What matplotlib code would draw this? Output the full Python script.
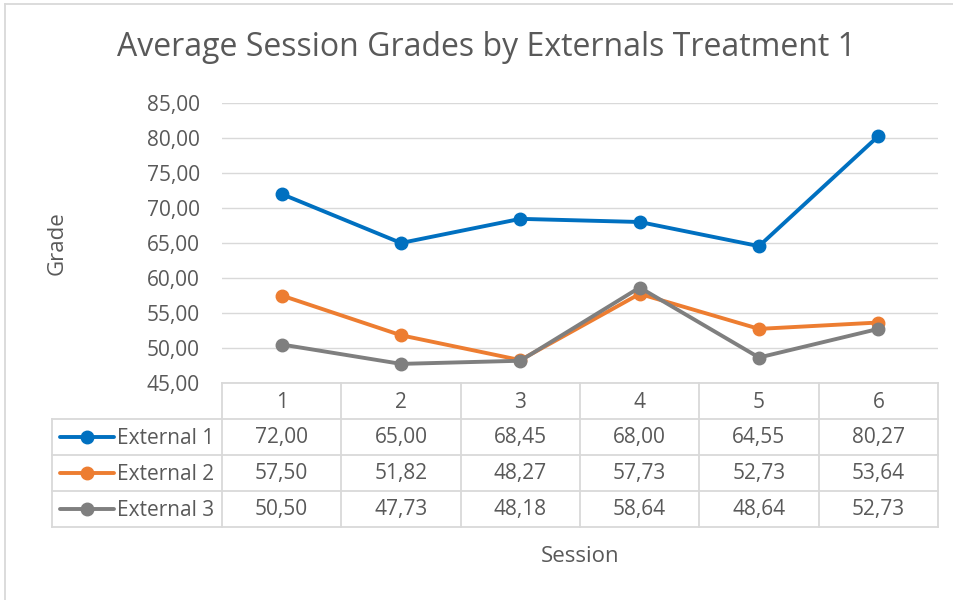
import matplotlib
matplotlib.use("Agg")
import matplotlib.pyplot as plt
from matplotlib.lines import Line2D

plt.rcParams['font.family'] = ['Open Sans', 'DejaVu Sans']

sessions = [1, 2, 3, 4, 5, 6]
series_names = ["External 1", "External 2", "External 3"]
external1 = [72.00, 65.00, 68.45, 68.00, 64.55, 80.27]
external2 = [57.50, 51.82, 48.27, 57.73, 52.73, 53.64]
external3 = [50.50, 47.73, 48.18, 58.64, 48.64, 52.73]
yticks = [45, 50, 55, 60, 65, 70, 75, 80, 85]
colors = ["#0070C0", "#ED7D31", "#7F7F7F"]

W, H = 954, 600
fig = plt.figure(figsize=(W / 100, H / 100), dpi=100)
TXT = "#595959"
GRID = "#D9D9D9"
FS = 15

def fx(px):
    return px / W

def fy(py):
    return 1 - py / H

L, R, T, B = 222, 938, 103, 383
ax = fig.add_axes([fx(L), fy(B), fx(R) - fx(L), fy(T) - fy(B)])
ax.set_xlim(0.5, 6.5)
ax.set_ylim(45, 85)
ax.set_yticks(yticks)
ax.set_yticklabels([f"{v:.2f}".replace(".", ",") for v in yticks], fontsize=FS, color=TXT)
ax.set_xticks([])
ax.tick_params(axis='y', length=0, pad=16)
for s in ax.spines.values():
    s.set_visible(False)
ax.grid(axis='y', color=GRID, linewidth=1)
ax.set_axisbelow(True)
ax.patch.set_alpha(0)

data = [external1, external2, external3]
for vals, c in zip(data, colors):
    ax.plot(sessions, vals, color=c, linewidth=2.8, marker='o', markersize=9,
            solid_capstyle='round', clip_on=False, zorder=3)

# overlay for table in pixel coordinates
ov = fig.add_axes([0, 0, 1, 1])
ov.set_xlim(0, W)
ov.set_ylim(H, 0)
ov.axis('off')
ov.patch.set_alpha(0)

col_edges = [L + (R - L) * i / 6 for i in range(7)]
row_edges = [383, 419, 455, 491, 527]
TL = 52
lw = 1.3
for x in col_edges:
    ov.plot([x, x], [row_edges[0], row_edges[-1]], color=GRID, lw=lw)
ov.plot([TL, TL], [row_edges[1], row_edges[-1]], color=GRID, lw=lw)
for y in row_edges[1:]:
    ov.plot([TL, R], [y, y], color=GRID, lw=lw)
ov.plot([L, R], [row_edges[0], row_edges[0]], color=GRID, lw=lw)

for i, s in enumerate(sessions):
    cx = (col_edges[i] + col_edges[i + 1]) / 2
    ov.text(cx, (row_edges[0] + row_edges[1]) / 2 + 1, str(s), ha='center', va='center',
            fontsize=FS, color=TXT)

for r, (name, vals, c) in enumerate(zip(series_names, data, colors)):
    cy = (row_edges[r + 1] + row_edges[r + 2]) / 2
    ov.add_line(Line2D([60, 114], [cy, cy], color=c, lw=2.8, solid_capstyle='round'))
    ov.plot([87], [cy], marker='o', markersize=9, color=c)
    ov.text(117, cy + 1, name, ha='left', va='center', fontsize=FS, color=TXT)
    for i, v in enumerate(vals):
        cx = (col_edges[i] + col_edges[i + 1]) / 2
        ov.text(cx, cy + 1, f"{v:.2f}".replace(".", ","), ha='center', va='center',
                fontsize=FS, color=TXT)

ov.plot([5, 5], [4, H], color=GRID, lw=1.3)
ov.plot([5, W], [4, 4], color=GRID, lw=1.3)

fig.text(fx(487), fy(48), "Average Session Grades by Externals Treatment 1", ha='center',
         va='center', fontsize=23, color=TXT)
fig.text(fx(57), fy(243), "Grade", ha='center', va='center', rotation=90, fontsize=16, color=TXT)
fig.text(fx(580), fy(556), "Session", ha='center', va='center', fontsize=16, color=TXT)

fig.savefig("out.png", dpi=100)
